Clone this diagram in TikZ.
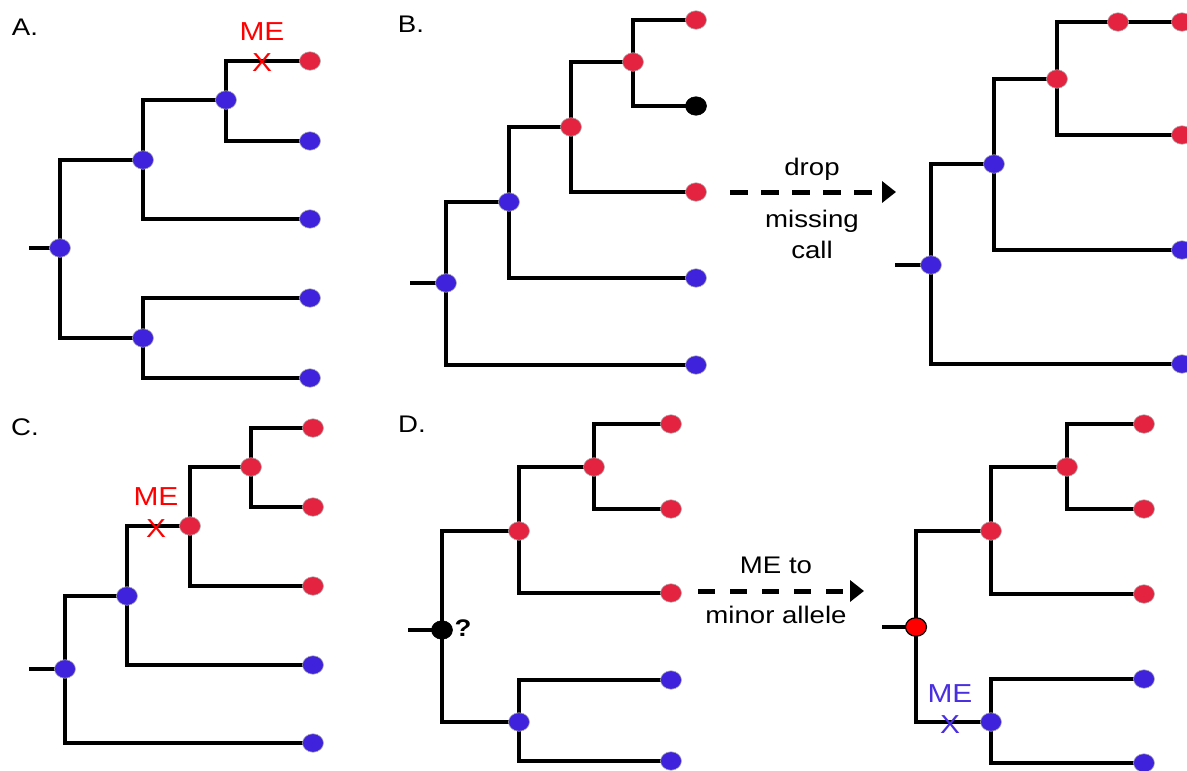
\documentclass[tikz,border=0pt]{standalone}
\usepackage{fontspec}
\usepackage{graphicx}
\setmainfont{Liberation Sans}
\usetikzlibrary{shapes.geometric,arrows.meta,backgrounds}
\definecolor{nodered}{HTML}{E3233F}
\definecolor{nodeblue}{HTML}{3F22DC}
\definecolor{mered}{HTML}{FF0000}
\definecolor{meblue}{HTML}{4A2FE0}
\newcommand{\hstr}[1]{\scalebox{1.15}[1]{#1}}
\tikzset{
  nd/.style={ellipse, minimum width=21pt, minimum height=18.5pt, inner sep=0pt, draw=gray!60, line width=0.6pt},
  rd/.style={nd, fill=nodered},
  bl/.style={nd, fill=nodeblue},
  bk/.style={nd, fill=black, draw=black},
  rr/.style={nd, fill=mered, draw=black, line width=1.2pt},
  br/.style={line width=3.2pt, draw=black},
  txt/.style={inner sep=0pt, anchor=base, font=\fontsize{24}{28}\selectfont},
  metxt/.style={inner sep=0pt, anchor=base, font=\fontsize{26}{30}\selectfont},
  darrow/.style={line width=5pt, dash pattern=on 18pt off 13pt, -{Triangle[length=14pt,width=21pt]}},
}
\begin{document}
\begin{tikzpicture}[x=1pt,y=-1pt]
\useasboundingbox (0,0) rectangle (1187,771);

% ---------------- Panel A ----------------
\node[txt] (labA) at (25,35) {\hstr{A.}};
\coordinate (As) at (29,248);
\node[bl] (A1) at (60,248) {};
\node[bl] (A2) at (143,160) {};
\node[bl] (A3) at (226,100) {};
\node[bl] (A4) at (143,338) {};
\node[rd] (La1) at (310,61) {};
\node[bl] (La2) at (310,141) {};
\node[bl] (La3) at (310,219) {};
\node[bl] (La4) at (310,298) {};
\node[bl] (La5) at (310,378) {};
\node[metxt, text=mered] (meA) at (262,40) {\hstr{ME}};
\node[metxt, text=mered] (xA) at (262,71) {\hstr{X}};
\begin{pgfonlayer}{background}
\draw[br] (As) -- (A1.center);
\draw[br] (A2.center) -| (A1.center) |- (A4.center);
\draw[br] (A3.center) -| (A2.center) |- (La3.center);
\draw[br] (La1.center) -| (A3.center) |- (La2.center);
\draw[br] (La4.center) -| (A4.center) |- (La5.center);
\end{pgfonlayer}

% ---------------- Panel B (left) ----------------
\node[txt] (labB) at (411,32) {\hstr{B.}};
\coordinate (Bs) at (410,283);
\node[bl] (B1) at (446,283) {};
\node[bl] (B2) at (509,202) {};
\node[rd] (B3) at (571,127) {};
\node[rd] (B4) at (633,62) {};
\node[rd] (Lb1) at (696,20) {};
\node[bk] (Lb2) at (696,106) {};
\node[rd] (Lb3) at (696,192) {};
\node[bl] (Lb4) at (696,278) {};
\node[bl] (Lb5) at (696,365) {};
\begin{pgfonlayer}{background}
\draw[br] (Bs) -- (B1.center);
\draw[br] (B2.center) -| (B1.center) |- (Lb5.center);
\draw[br] (B3.center) -| (B2.center) |- (Lb4.center);
\draw[br] (B4.center) -| (B3.center) |- (Lb3.center);
\draw[br] (Lb1.center) -| (B4.center) |- (Lb2.center);
\end{pgfonlayer}

% arrow 1
\coordinate (a1s) at (730,192);
\coordinate (a1e) at (896,192);
\draw[darrow] (a1s) -- (a1e);
\node[txt] (drop) at (812,175) {\hstr{drop}};
\node[txt] (miss) at (812,227) {\hstr{missing}};
\node[txt] (call) at (812,258) {\hstr{call}};

% ---------------- Panel B (right) ----------------
\coordinate (Rs) at (895,265);
\node[bl] (R1) at (931,265) {};
\node[bl] (R2) at (994,164) {};
\node[rd] (R3) at (1057,79) {};
\node[rd] (Rm) at (1118,22) {};
\node[rd] (Lr1) at (1182,22) {};
\node[rd] (Lr2) at (1182,135) {};
\node[bl] (Lr3) at (1182,250) {};
\node[bl] (Lr4) at (1182,364) {};
\begin{pgfonlayer}{background}
\draw[br] (Rs) -- (R1.center);
\draw[br] (R2.center) -| (R1.center) |- (Lr4.center);
\draw[br] (R3.center) -| (R2.center) |- (Lr3.center);
\draw[br] (Rm.center) -| (R3.center) |- (Lr2.center);
\draw[br] (Rm.center) -- (Lr1.center);
\end{pgfonlayer}

% ---------------- Panel C ----------------
\node[txt] (labC) at (25,435) {\hstr{C.}};
\coordinate (Cs) at (29,669);
\node[bl] (C1) at (65,669) {};
\node[bl] (C2) at (127,596) {};
\node[rd] (C3) at (190,526) {};
\node[rd] (C4) at (251,467) {};
\node[rd] (Lc1) at (313,428) {};
\node[rd] (Lc2) at (313,507) {};
\node[rd] (Lc3) at (313,586) {};
\node[bl] (Lc4) at (313,665) {};
\node[bl] (Lc5) at (313,743) {};
\node[metxt, text=mered] (meC) at (156,505) {\hstr{ME}};
\node[metxt, text=mered] (xC) at (156,537) {\hstr{X}};
\begin{pgfonlayer}{background}
\draw[br] (Cs) -- (C1.center);
\draw[br] (C2.center) -| (C1.center) |- (Lc5.center);
\draw[br] (C3.center) -| (C2.center) |- (Lc4.center);
\draw[br] (C4.center) -| (C3.center) |- (Lc3.center);
\draw[br] (Lc1.center) -| (C4.center) |- (Lc2.center);
\end{pgfonlayer}

% ---------------- Panel D (left) ----------------
\node[txt] (labD) at (412,432) {\hstr{D.}};
\coordinate (Ds) at (408,630);
\node[bk] (D1) at (442,630) {};
\node[rd] (D2) at (519,531) {};
\node[rd] (D3) at (594,467) {};
\node[bl] (D4) at (519,722) {};
\node[rd] (Ld1) at (671,424) {};
\node[rd] (Ld2) at (671,509) {};
\node[rd] (Ld3) at (671,593) {};
\node[bl] (Ld4) at (671,680) {};
\node[bl] (Ld5) at (671,761) {};
\node[txt, font=\fontsize{24}{28}\selectfont\bfseries] (q) at (463,636) {\hstr{?}};
\begin{pgfonlayer}{background}
\draw[br] (Ds) -- (D1.center);
\draw[br] (D2.center) -| (D1.center) |- (D4.center);
\draw[br] (D3.center) -| (D2.center) |- (Ld3.center);
\draw[br] (Ld1.center) -| (D3.center) |- (Ld2.center);
\draw[br] (Ld4.center) -| (D4.center) |- (Ld5.center);
\end{pgfonlayer}

% arrow 2
\coordinate (a2s) at (698,591);
\coordinate (a2e) at (864,591);
\draw[darrow, dash pattern=on 17pt off 15pt] (a2s) -- (a2e);
\node[txt] (meto) at (776,573) {\hstr{ME to}};
\node[txt] (minor) at (776,623) {\hstr{minor allele}};

% ---------------- Panel D (right) ----------------
\coordinate (Es) at (882,627);
\node[rr] (E1) at (916,627) {};
\node[rd] (E2) at (991,531) {};
\node[rd] (E3) at (1067,467) {};
\node[bl] (E4) at (991,722) {};
\node[rd] (Le1) at (1144,424) {};
\node[rd] (Le2) at (1144,509) {};
\node[rd] (Le3) at (1144,594) {};
\node[bl] (Le4) at (1144,679) {};
\node[bl] (Le5) at (1144,763) {};
\node[metxt, text=meblue] (meE) at (950,702) {\hstr{ME}};
\node[metxt, text=meblue] (xE) at (950,733) {\hstr{X}};
\begin{pgfonlayer}{background}
\draw[br] (Es) -- (E1.center);
\draw[br] (E2.center) -| (E1.center) |- (E4.center);
\draw[br] (E3.center) -| (E2.center) |- (Le3.center);
\draw[br] (Le1.center) -| (E3.center) |- (Le2.center);
\draw[br] (Le4.center) -| (E4.center) |- (Le5.center);
\end{pgfonlayer}
\end{tikzpicture}
\end{document}
